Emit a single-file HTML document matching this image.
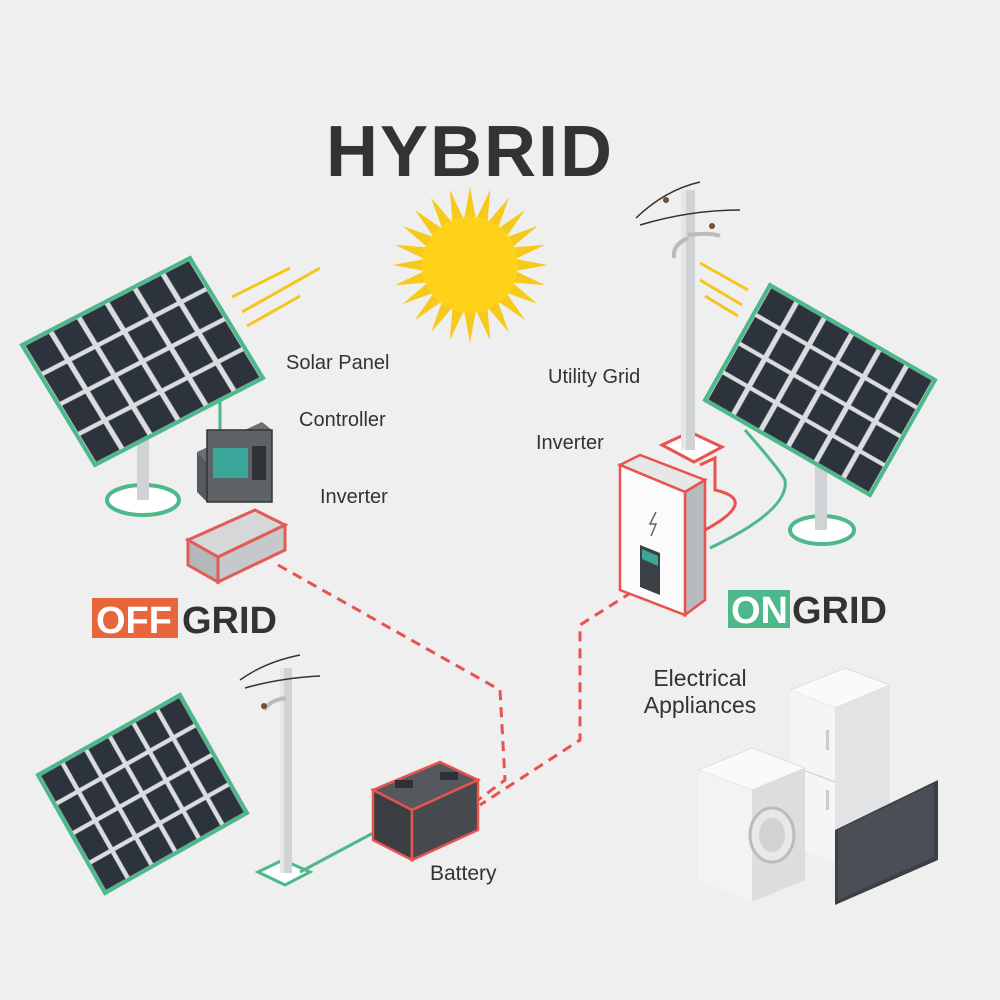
<!DOCTYPE html>
<html><head><meta charset="utf-8"><style>
html,body{margin:0;padding:0;background:#efefef;}
svg{display:block}
text{font-family:"Liberation Sans",sans-serif;fill:#333}
</style></head><body>
<svg width="1000" height="1000" viewBox="0 0 1000 1000" xmlns="http://www.w3.org/2000/svg">
<defs>
<pattern id="cells" patternUnits="userSpaceOnUse" width="16.6667" height="25">
<rect x="0" y="0" width="16.6667" height="25" fill="#d9dde0"/>
<rect x="1.4" y="1.6" width="13.9" height="21.8" fill="#2d333d"/>
</pattern>
</defs>
<rect width="1000" height="1000" fill="#efefef"/>

<text x="470" y="176" text-anchor="middle" font-size="72" font-weight="bold" fill="#333" letter-spacing="2">HYBRID</text>

<!-- sun -->
<g transform="translate(470,265)">
<g fill="#f7c91c">
<polygon points="0,-78 6,-45 -6,-45" transform="rotate(0)"/>
<polygon points="0,-78 6,-45 -6,-45" transform="rotate(15)"/>
<polygon points="0,-78 6,-45 -6,-45" transform="rotate(30)"/>
<polygon points="0,-78 6,-45 -6,-45" transform="rotate(45)"/>
<polygon points="0,-78 6,-45 -6,-45" transform="rotate(60)"/>
<polygon points="0,-78 6,-45 -6,-45" transform="rotate(75)"/>
<polygon points="0,-78 6,-45 -6,-45" transform="rotate(90)"/>
<polygon points="0,-78 6,-45 -6,-45" transform="rotate(105)"/>
<polygon points="0,-78 6,-45 -6,-45" transform="rotate(120)"/>
<polygon points="0,-78 6,-45 -6,-45" transform="rotate(135)"/>
<polygon points="0,-78 6,-45 -6,-45" transform="rotate(150)"/>
<polygon points="0,-78 6,-45 -6,-45" transform="rotate(165)"/>
<polygon points="0,-78 6,-45 -6,-45" transform="rotate(180)"/>
<polygon points="0,-78 6,-45 -6,-45" transform="rotate(195)"/>
<polygon points="0,-78 6,-45 -6,-45" transform="rotate(210)"/>
<polygon points="0,-78 6,-45 -6,-45" transform="rotate(225)"/>
<polygon points="0,-78 6,-45 -6,-45" transform="rotate(240)"/>
<polygon points="0,-78 6,-45 -6,-45" transform="rotate(255)"/>
<polygon points="0,-78 6,-45 -6,-45" transform="rotate(270)"/>
<polygon points="0,-78 6,-45 -6,-45" transform="rotate(285)"/>
<polygon points="0,-78 6,-45 -6,-45" transform="rotate(300)"/>
<polygon points="0,-78 6,-45 -6,-45" transform="rotate(315)"/>
<polygon points="0,-78 6,-45 -6,-45" transform="rotate(330)"/>
<polygon points="0,-78 6,-45 -6,-45" transform="rotate(345)"/>
</g>
<circle r="48" fill="#ffd21a"/>
</g>
<!-- sun rays lines -->
<g stroke="#f7c31c" stroke-width="3">
<line x1="232" y1="297" x2="290" y2="268"/>
<line x1="242" y1="312" x2="320" y2="268"/>
<line x1="247" y1="326" x2="300" y2="296"/>
<line x1="700" y1="263" x2="748" y2="290"/>
<line x1="700" y1="280" x2="742" y2="305"/>
<line x1="705" y1="296" x2="738" y2="316"/>
</g>

<!-- left top panel stand -->
<ellipse cx="143" cy="500" rx="36" ry="15" fill="#fff" stroke="#4db88a" stroke-width="4"/>
<rect x="137" y="430" width="12" height="70" fill="#cfd3d6"/>
<g transform="matrix(1.68,-0.87,0.73,1.2,22,345)">
<rect x="0" y="0" width="100" height="100" fill="url(#cells)" stroke="#4db88a" stroke-width="4" vector-effect="non-scaling-stroke"/>
</g>
<!-- green wire to controller -->
<path d="M220,398 L220,470" stroke="#4db88a" stroke-width="3" fill="none"/>
<!-- controller -->
<polygon points="197,452 262,422 272,430 207,462" fill="#6b7075"/>
<polygon points="197,452 207,462 207,502 197,492" fill="#555a5f"/>
<rect x="207" y="430" width="65" height="72" fill="#5e6368" stroke="#333" stroke-width="1.5"/>
<rect x="213" y="448" width="35" height="30" fill="#3aa79a"/>
<rect x="252" y="446" width="14" height="34" fill="#2e3338"/>
<!-- left inverter -->
<polygon points="188,540 255,510 285,525 218,557" fill="#d5d7d9" stroke="#e35b55" stroke-width="3"/>
<polygon points="188,540 218,557 218,582 188,565" fill="#b5b8bb" stroke="#e35b55" stroke-width="3"/>
<polygon points="218,557 285,525 285,550 218,582" fill="#c6c9cc" stroke="#e35b55" stroke-width="3"/>

<text x="286" y="369" font-size="20">Solar Panel</text>
<text x="299" y="426" font-size="20">Controller</text>
<text x="320" y="503" font-size="20">Inverter</text>

<!-- OFFGRID -->
<rect x="92" y="598" width="86" height="40" fill="#e8663b"/>
<text x="96" y="633" font-size="38" font-weight="bold" fill="#fff" style="fill:#fff">OFF</text>
<text x="182" y="633" font-size="38" font-weight="bold">GRID</text>

<!-- dashed lines -->
<g stroke="#e8524f" stroke-width="3" stroke-dasharray="10,7" fill="none">
<path d="M278,565 L500,690 L505,780 L478,800"/>
<path d="M632,592 L580,625 L580,740 L480,805"/>
</g>

<!-- right pole -->
<polygon points="662,445 690,432 722,447 694,462" fill="#fff" stroke="#e8524f" stroke-width="3"/>
<rect x="681" y="190" width="14" height="260" fill="#cfd3d6"/>
<rect x="681" y="190" width="5" height="260" fill="#e4e6e8"/>
<path d="M688,235 Q710,232 720,236" stroke="#bbb" stroke-width="4" fill="none"/>
<path d="M688,238 Q672,245 674,258" stroke="#bbb" stroke-width="4" fill="none"/>
<path d="M636,218 Q665,190 700,182" stroke="#333" stroke-width="1.5" fill="none"/>
<path d="M640,225 Q690,210 740,210" stroke="#333" stroke-width="1.5" fill="none"/>
<circle cx="666" cy="200" r="3" fill="#6b4f3a"/>
<circle cx="712" cy="226" r="3" fill="#6b4f3a"/>

<!-- right panel stand -->
<ellipse cx="822" cy="530" rx="32" ry="14" fill="#fff" stroke="#4db88a" stroke-width="4"/>
<rect x="815" y="460" width="12" height="70" fill="#cfd3d6"/>
<path d="M745,430 Q780,470 785,480 Q790,510 710,548" stroke="#4db88a" stroke-width="3" fill="none"/>
<g transform="matrix(1.65,0.95,-0.65,1.15,770,285)">
<rect x="0" y="0" width="100" height="100" fill="url(#cells)" stroke="#4db88a" stroke-width="4" vector-effect="non-scaling-stroke"/>
</g>
<path d="M700,465 L715,458 L715,490 Q760,500 705,530" stroke="#e8524f" stroke-width="3" fill="none"/>

<text x="548" y="383" font-size="20">Utility Grid</text>
<text x="536" y="449" font-size="20">Inverter</text>

<!-- right inverter -->
<polygon points="620,465 640,455 705,480 685,492" fill="#e6e7e8" stroke="#e8524f" stroke-width="2.5"/>
<polygon points="685,492 705,480 705,600 685,615" fill="#b8bbbe" stroke="#e8524f" stroke-width="2.5"/>
<polygon points="620,465 685,492 685,615 620,590" fill="#fbfbfb" stroke="#e8524f" stroke-width="2.5"/>
<path d="M656,512 L650,524 L656,524 L651,536" stroke="#666" stroke-width="1.5" fill="none"/>
<polygon points="640,545 660,553 660,595 640,587" fill="#3c4147"/>
<polygon points="642,549 658,556 658,566 642,559" fill="#3aa79a"/>

<!-- ONGRID -->
<rect x="728" y="590" width="62" height="38" fill="#4db88a"/>
<text x="731" y="623" font-size="38" font-weight="bold" style="fill:#fff">ON</text>
<text x="792" y="623" font-size="38" font-weight="bold">GRID</text>

<text x="700" y="686" font-size="23" text-anchor="middle">Electrical</text>
<text x="700" y="713" font-size="23" text-anchor="middle">Appliances</text>

<!-- bottom left panel -->
<g transform="matrix(1.42,-0.8,0.67,1.18,38,775)">
<rect x="0" y="0" width="100" height="100" fill="url(#cells)" stroke="#4db88a" stroke-width="4" vector-effect="non-scaling-stroke"/>
</g>
<!-- bottom pole -->
<polygon points="258,872 283,860 310,872 285,885" fill="#fff" stroke="#4db88a" stroke-width="3"/>
<rect x="280" y="668" width="12" height="205" fill="#cfd3d6"/>
<rect x="280" y="668" width="4" height="205" fill="#e4e6e8"/>
<path d="M240,680 Q265,662 300,655" stroke="#333" stroke-width="1.5" fill="none"/>
<path d="M245,688 Q280,678 320,676" stroke="#333" stroke-width="1.5" fill="none"/>
<path d="M286,698 Q270,700 264,710" stroke="#bbb" stroke-width="4" fill="none"/>
<circle cx="264" cy="706" r="3" fill="#6b4f3a"/>
<path d="M300,872 L375,832" stroke="#4db88a" stroke-width="3" fill="none"/>

<!-- battery -->
<polygon points="373,790 440,762 478,780 412,810" fill="#55595e" stroke="#e8524f" stroke-width="2.5"/>
<polygon points="373,790 412,810 412,860 373,840" fill="#3a3e43" stroke="#e8524f" stroke-width="2.5"/>
<polygon points="412,810 478,780 478,830 412,860" fill="#464a4f" stroke="#e8524f" stroke-width="2.5"/>
<rect x="395" y="780" width="18" height="8" fill="#2e3135"/>
<rect x="440" y="772" width="18" height="8" fill="#2e3135"/>
<text x="430" y="880" font-size="21">Battery</text>

<!-- fridge -->
<polygon points="790,690 845,668 890,685 835,708" fill="#fafafa" stroke="#ddd"/>
<polygon points="835,708 890,685 890,840 835,862" fill="#e2e3e4"/>
<polygon points="790,690 835,708 835,862 790,845" fill="#f5f5f5"/>
<line x1="790" y1="765" x2="835" y2="782" stroke="#ccc"/>
<rect x="826" y="730" width="3" height="20" fill="#ccc"/>
<rect x="826" y="790" width="3" height="20" fill="#ccc"/>
<!-- washer -->
<polygon points="698,770 752,748 805,768 752,790" fill="#fafafa" stroke="#ddd"/>
<polygon points="752,790 805,768 805,880 752,902" fill="#dcdddf"/>
<polygon points="698,770 752,790 752,902 698,880" fill="#f3f3f3"/>
<ellipse cx="772" cy="835" rx="22" ry="27" fill="#e8e8e8" stroke="#bbb" stroke-width="3"/>
<ellipse cx="772" cy="835" rx="13" ry="17" fill="#d0d2d4"/>
<!-- TV -->
<polygon points="835,830 938,780 938,860 835,905" fill="#3c4046"/>
<polygon points="838,830 934,784 934,857 838,900" fill="#4a4f55"/>
</svg>
</body></html>
